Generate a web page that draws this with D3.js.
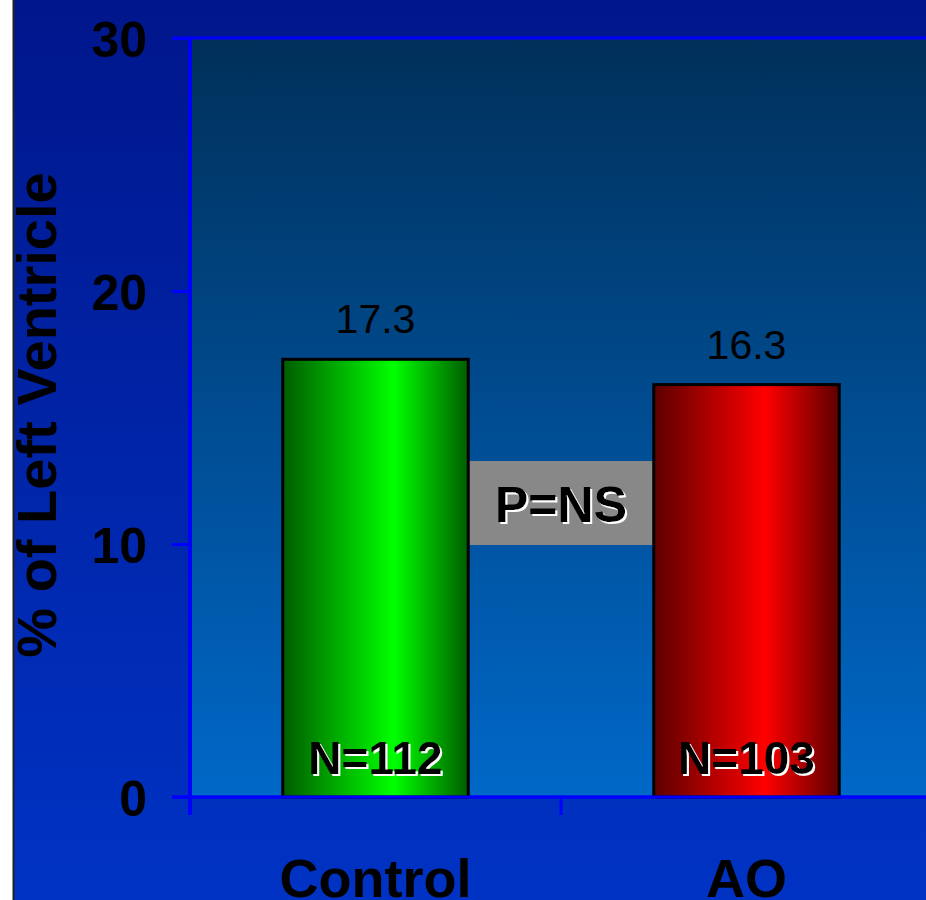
<!DOCTYPE html>
<html><head><meta charset="utf-8">
<script src="https://cdn.jsdelivr.net/npm/d3@7"></script>
<style>body{margin:0;background:#fff;}svg{display:block;}</style>
</head><body>
<script>
const categories = ["Control", "AO"];
const values = [17.3, 16.3];
const nLabels = ["N=112", "N=103"];
const yTicks = [0, 10, 20, 30];
const pLabel = "P=NS";
const yTitle = "% of Left Ventricle";

const W = 926, H = 900;
const svg = d3.select("body").append("svg").attr("width", W).attr("height", H);
const defs = svg.append("defs");

function lg(id, x2, y2, stops) {
  const g = defs.append("linearGradient").attr("id", id).attr("x1", 0).attr("y1", 0).attr("x2", x2).attr("y2", y2);
  stops.forEach(s => g.append("stop").attr("offset", s[0]).attr("stop-color", s[1]));
}
lg("bgGrad", 0, 1, [[0, "#00168c"], [1, "#0033c4"]]);
lg("plotGrad", 0, 1, [[0, "#00305a"], [1, "#0068c8"]]);
lg("greenGrad", 1, 0, [[0, "#005c00"], [0.6, "#00ff00"], [1, "#005c00"]]);
lg("redGrad", 1, 0, [[0, "#5c0000"], [0.6, "#ff0000"], [1, "#5c0000"]]);

const emb = defs.append("filter").attr("id", "emboss").attr("x", "-10%").attr("y", "-20%").attr("width", "130%").attr("height", "150%");
emb.append("feDropShadow").attr("dx", 2).attr("dy", 2).attr("stdDeviation", 0.3).attr("flood-color", "#ffffff").attr("flood-opacity", 1);

// background
svg.append("rect").attr("x", 13).attr("y", 0).attr("width", W - 13).attr("height", H).attr("fill", "url(#bgGrad)");
svg.append("line").attr("x1", 13.5).attr("x2", 13.5).attr("y1", 0).attr("y2", H).attr("stroke", "#222").attr("stroke-width", 2);

const y = d3.scaleLinear().domain([0, 30]).range([797, 38]);
const x = d3.scaleBand().domain(categories).range([190, 932]).padding(0);

// plot area
svg.append("rect").attr("x", 190).attr("y", y(30)).attr("width", W - 190).attr("height", y(0) - y(30)).attr("fill", "url(#plotGrad)");

const font = "'Liberation Sans', Arial, sans-serif";

// y axis
const yAxis = d3.axisLeft(y).tickValues(yTicks).tickSize(18).tickPadding(25).tickFormat(d3.format("d"));
const gy = svg.append("g").attr("transform", "translate(190,0)").call(yAxis);
gy.select(".domain").remove();
gy.selectAll(".tick line").attr("stroke", "#0000ff").attr("stroke-width", 3);
gy.selectAll(".tick text").attr("font-family", font).attr("font-weight", "bold").attr("font-size", 50).attr("fill", "#000").attr("dy", "0.36em");
// top and bottom horizontal lines
[30, 0].forEach(v => svg.append("line").attr("x1", 172).attr("x2", W).attr("y1", y(v)).attr("y2", y(v)).attr("stroke", "#0000ff").attr("stroke-width", 3));
svg.append("line").attr("x1", 190).attr("x2", 190).attr("y1", y(30) - 1.5).attr("y2", 815).attr("stroke", "#0000ff").attr("stroke-width", 4);

// x ticks (at band boundaries)
[190, x("AO")].forEach(px => svg.append("line").attr("x1", px).attr("x2", px).attr("y1", y(0)).attr("y2", 815).attr("stroke", "#0000ff").attr("stroke-width", 3));

// x labels
svg.selectAll(".xl").data(categories).enter().append("text")
  .attr("x", d => x(d) + x.bandwidth() / 2).attr("y", 897)
  .attr("text-anchor", "middle").attr("font-family", font).attr("font-weight", "bold").attr("font-size", 54).attr("fill", "#000").text(d => d);

// y title
svg.append("text").attr("transform", "translate(56,415) rotate(-90)").attr("text-anchor", "middle")
  .attr("font-family", font).attr("font-weight", "bold").attr("font-size", 56).attr("fill", "#000").text(yTitle);

// P=NS box
const bw = x.bandwidth() * 0.5;
const c0 = x("Control") + x.bandwidth() / 2, c1 = x("AO") + x.bandwidth() / 2;
svg.append("rect").attr("x", c0 + bw / 2).attr("y", 461).attr("width", (c1 - bw / 2) - (c0 + bw / 2)).attr("height", 84).attr("fill", "#888888");
function embossed(txt, cx, cy, size) {
  svg.append("text").attr("x", cx).attr("y", cy).attr("text-anchor", "middle").attr("font-family", font)
    .attr("font-weight", "bold").attr("font-size", size).attr("fill", "#000").attr("filter", "url(#emboss)").text(txt);
}
embossed(pLabel, (c0 + c1) / 2, 522, 50);

// bars
const fills = ["url(#greenGrad)", "url(#redGrad)"];
categories.forEach((c, i) => {
  const cx = x(c) + x.bandwidth() / 2;
  svg.append("rect").attr("x", cx - bw / 2).attr("y", y(values[i])).attr("width", bw).attr("height", y(0) - y(values[i]))
    .attr("fill", fills[i]).attr("stroke", "#000").attr("stroke-width", 3);
  svg.append("text").attr("x", cx).attr("y", y(values[i]) - 26).attr("text-anchor", "middle")
    .attr("font-family", font).attr("font-size", 41).attr("fill", "#000").text(values[i].toFixed(1));
  embossed(nLabels[i], cx, 774, 46);
});
// redraw zero line over bars
svg.append("line").attr("x1", 172).attr("x2", W).attr("y1", y(0)).attr("y2", y(0)).attr("stroke", "#0000ff").attr("stroke-width", 3);
</script>
</body></html>
